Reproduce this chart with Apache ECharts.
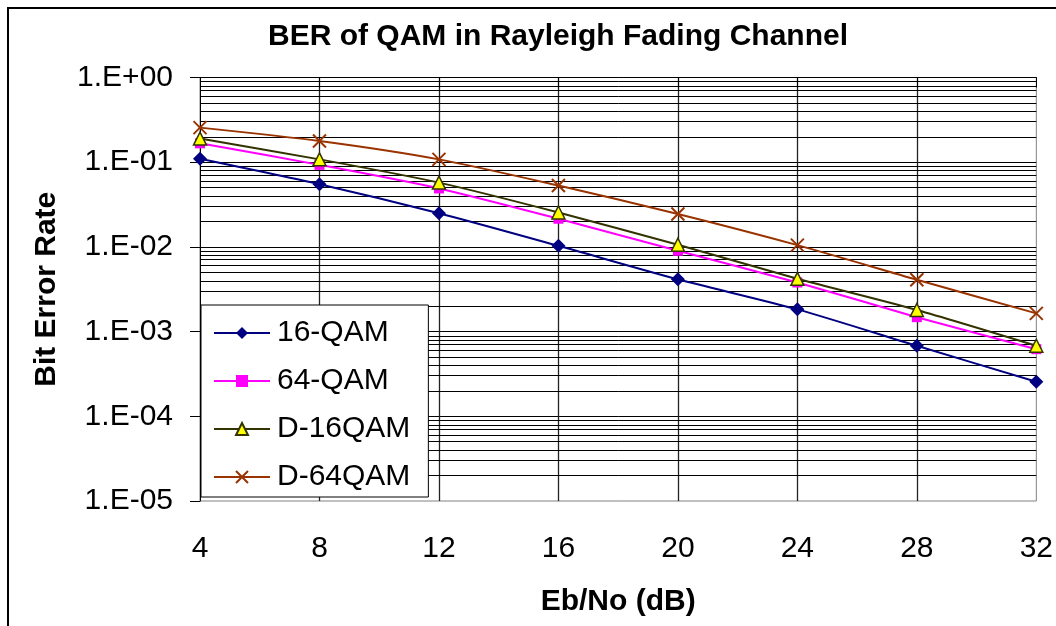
<!DOCTYPE html>
<html>
<head>
<meta charset="utf-8">
<script src="https://cdn.jsdelivr.net/npm/echarts@6/dist/echarts.min.js"></script>
<style>html,body{margin:0;padding:0;background:#fff;}#c{width:1056px;height:626px;}</style>
</head>
<body>
<div id="c"></div>
<script>
var ebno = [4, 8, 12, 16, 20, 24, 28, 32];
var qam16 = [0.11, 0.055, 0.025, 0.0103, 0.00414, 0.00183, 0.00068, 0.000256];
var qam64 = [0.167, 0.093, 0.049, 0.0215, 0.0090, 0.0038, 0.00148, 0.00062];
var dqam16 = [0.19, 0.108, 0.0574, 0.0255, 0.0106, 0.0042, 0.0018, 0.00068];
var dqam64 = [0.256, 0.178, 0.108, 0.053, 0.0245, 0.0105, 0.0041, 0.00164];
var seriesNames = ['16-QAM', '64-QAM', 'D-16QAM', 'D-64QAM'];
var minorGridValues = [];
[-5, -4, -3, -2, -1].forEach(function (k) {
  for (var m = 2; m <= 9; m++) minorGridValues.push(m * Math.pow(10, k));
});

function pairs(arr) { return ebno.map(function (x, i) { return [x, arr[i]]; }); }
var FONT = 'Liberation Sans, Arial, sans-serif';

var chart = echarts.init(document.getElementById('c'), null, { renderer: 'canvas' });
chart.setOption({
  animation: false,
  backgroundColor: '#fff',
  title: {
    text: 'BER of QAM in Rayleigh Fading Channel',
    left: 553, top: 17, textAlign: 'center',
    textStyle: { fontFamily: FONT, fontSize: 30, fontWeight: 'bold', color: '#000' }
  },
  graphic: [{
    type: 'rect', shape: { x: 8, y: 8, width: 1100, height: 700 },
    style: { fill: null, stroke: '#000', lineWidth: 2 }, silent: true, z: -1
  }],
  grid: {
    left: 200, top: 77.5, right: 18.5, bottom: 125,
    show: true, borderColor: '#808080', borderWidth: 1, backgroundColor: 'transparent'
  },
  legend: {
    orient: 'vertical', left: 201, top: 305, z: 50, zlevel: 0,
    backgroundColor: '#fff', borderColor: '#000', borderWidth: 1,
    padding: [13, 18, 5, 12],
    itemWidth: 56, itemHeight: 15, itemGap: 18,
    selectedMode: false,
    textStyle: { fontFamily: FONT, fontSize: 30, color: '#000', lineHeight: 30, padding: [0, 0, 0, 2] },
    data: seriesNames
  },
  xAxis: {
    type: 'value', min: 4, max: 32, interval: 4,
    name: 'Eb/No (dB)', nameLocation: 'middle', nameGap: 86,
    nameTextStyle: { fontFamily: FONT, fontSize: 30, fontWeight: 'bold', color: '#000' },
    axisLine: { lineStyle: { color: '#000', width: 1 } },
    axisTick: { show: true, length: 10, lineStyle: { color: '#000' } },
    axisLabel: { fontFamily: FONT, fontSize: 30, color: '#000', margin: 33 },
    splitLine: { show: true, showMinLine: false, showMaxLine: false, lineStyle: { color: '#222', width: 1.3 } }
  },
  yAxis: [{
    type: 'log', logBase: 10, min: 1e-5, max: 1,
    name: 'Bit Error Rate', nameLocation: 'middle', nameGap: 138,
    nameTextStyle: { fontFamily: FONT, fontSize: 30, fontWeight: 'bold', color: '#000' },
    axisLine: { show: true, lineStyle: { color: '#000', width: 1 } },
    axisTick: { show: true, length: 10, lineStyle: { color: '#000' } },
    axisLabel: {
      fontFamily: FONT, fontSize: 30, color: '#000', margin: 27,
      formatter: function (v) {
        var e = Math.round(Math.log10(v));
        var s = e < 0 ? '-' : '+';
        var a = Math.abs(e);
        return '1.E' + s + (a < 10 ? '0' : '') + a;
      }
    },
    splitLine: { show: true, showMaxLine: false, showMinLine: false, lineStyle: { color: '#000', width: 1 } }
  }, {
    type: 'value', min: -5, max: 0, show: false,
    splitLine: { show: false }
  }],
  series: [
    {
      name: 'minor-grid', type: 'line', yAxisIndex: 1, data: [], silent: true,
      z: 0,
      markLine: {
        silent: true, symbol: 'none', label: { show: false }, animation: false,
        z: 0,
        lineStyle: { color: '#000', width: 1, type: 'solid' },
        data: minorGridValues.map(function (v) { return { yAxis: Math.log10(v) }; })
      }
    },
    {
      name: seriesNames[0], type: 'line', data: pairs(qam16), smooth: 0.25,
      symbol: 'diamond', symbolSize: 14,
      lineStyle: { color: '#000080', width: 2 },
      itemStyle: { color: '#000080' },
      z: 5
    },
    {
      name: seriesNames[1], type: 'line', data: pairs(qam64), smooth: 0.25,
      symbol: 'rect', symbolSize: 10,
      lineStyle: { color: '#FF00FF', width: 2 },
      itemStyle: { color: '#FF00FF' },
      z: 5
    },
    {
      name: seriesNames[2], type: 'line', data: pairs(dqam16), smooth: 0.25,
      symbol: 'triangle', symbolSize: 13,
      lineStyle: { color: '#333300', width: 2 },
      itemStyle: { color: '#FFFF00', borderColor: '#333300', borderWidth: 1.5 },
      z: 6
    },
    {
      name: seriesNames[3], type: 'line', data: pairs(dqam64), smooth: 0.25,
      symbol: 'path://M0,0L10,10M10,0L0,10', symbolSize: 13,
      lineStyle: { color: '#993300', width: 2 },
      itemStyle: { color: 'rgba(0,0,0,0)', borderColor: '#993300', borderWidth: 2 },
      z: 5
    }
  ]
});
</script>
</body>
</html>
